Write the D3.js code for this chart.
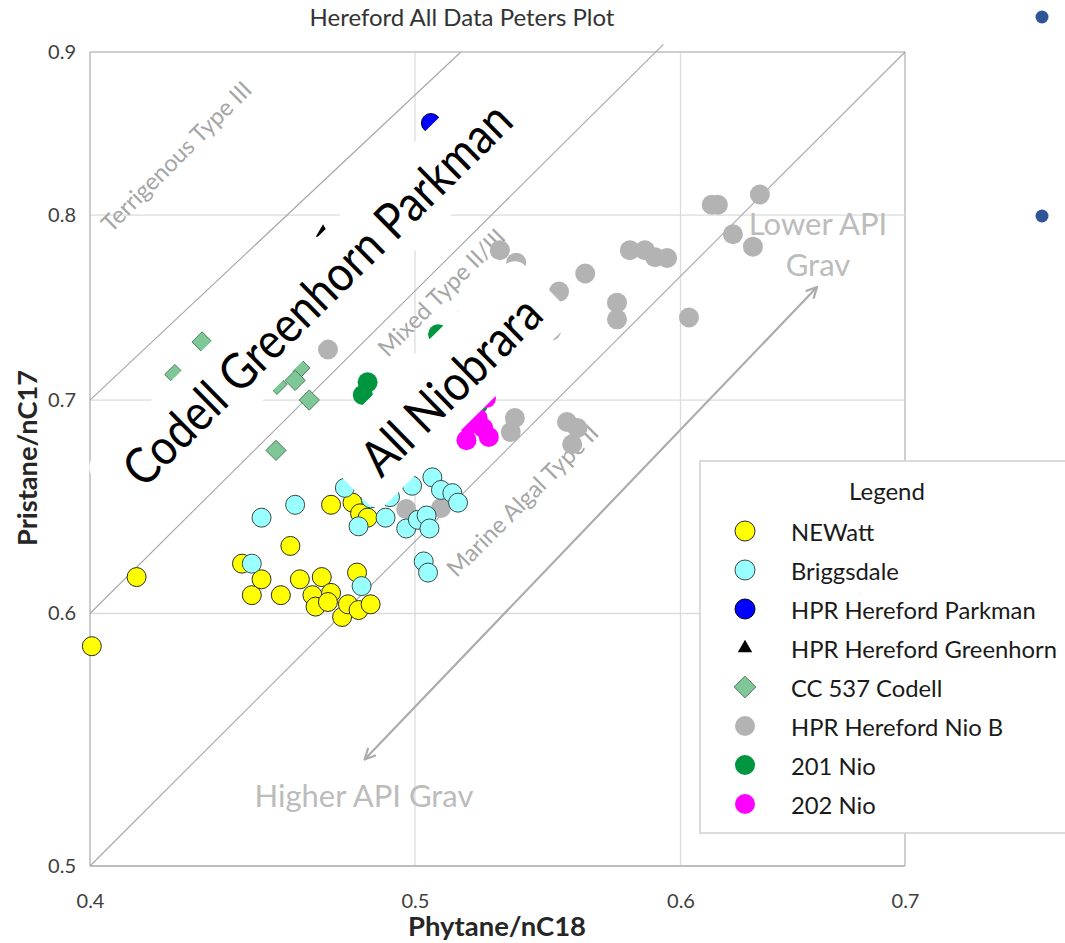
<!DOCTYPE html>
<html><head><meta charset="utf-8">
<script src="https://cdn.jsdelivr.net/npm/d3@7"></script>
<style>
body{margin:0;background:#fff;}
svg{display:block;font-family:Lato,"Open Sans",sans-serif;}
</style>
</head><body>
<svg id="c" width="1065" height="943"></svg>
<script>
// ---- Data (Phytane/nC18, Pristane/nC17) ----
const xTicks = [0.4, 0.5, 0.6, 0.7];
const yTicks = [0.5, 0.6, 0.7, 0.8, 0.9];

const newatt = [[0.4005,0.586],[0.413,0.616],[0.444,0.622],[0.447,0.608],[0.450,0.615],[0.456,0.608],
  [0.459,0.630],[0.462,0.615],[0.466,0.608],[0.469,0.616],[0.467,0.603],[0.472,0.609],[0.471,0.605],
  [0.472,0.649],[0.479,0.650],[0.4815,0.645],[0.484,0.643],[0.4805,0.618],[0.4756,0.5985],
  [0.4775,0.604],[0.481,0.6015],[0.485,0.604]];
const briggsdale = [[0.447,0.622],[0.450,0.643],[0.4605,0.649],[0.4765,0.657],[0.481,0.639],
  [0.490,0.643],[0.4915,0.6526],[0.485,0.652],[0.499,0.658],[0.506,0.662],[0.509,0.656],
  [0.513,0.6545],[0.515,0.650],[0.497,0.638],[0.501,0.642],[0.504,0.644],[0.505,0.638],
  [0.503,0.623],[0.5045,0.618],[0.482,0.612]];
const parkman = [[0.5055,0.855]];
const greenhorn = [[0.4694,0.790]];
const codell = [[0.432,0.730],[0.462,0.7164],[0.4605,0.710],[0.465,0.700],[0.4545,0.675],
  [0.4548,0.708],[0.424,0.713]];
const nioB = [[0.471,0.726],[0.497,0.647],[0.509,0.6475],[0.530,0.780],[0.536,0.773],[0.562,0.767],
  [0.552,0.757],[0.549,0.736],[0.5795,0.780],[0.5855,0.780],[0.5896,0.776],[0.5945,0.7756],
  [0.5744,0.751],[0.5744,0.742],[0.613,0.806],[0.6156,0.806],[0.6336,0.812],[0.622,0.789],
  [0.6306,0.782],[0.6035,0.743],[0.5355,0.691],[0.534,0.684],[0.555,0.689],[0.559,0.686],
  [0.557,0.678],[0.5175,0.7427]];
const nio201 = [[0.484,0.709],[0.4824,0.7026],[0.508,0.734],[0.522,0.6975]];
const nio202 = [[0.525,0.701],[0.522,0.691],[0.519,0.6875],[0.524,0.686],[0.526,0.6816],[0.518,0.680]];

// boundary lines between kerogen types
const boundaries = [[[0.4,0.7],[0.516,0.9]], [[0.4,0.6],[0.593,0.905]], [[0.4,0.5],[0.7,0.9]]];
const arrowEnds = [[0.483,0.540],[0.659,0.7595]];

const seriesNames = ["NEWatt","Briggsdale","HPR Hereford Parkman","HPR Hereford Greenhorn",
  "CC 537 Codell","HPR Hereford Nio B","201 Nio","202 Nio"];

// ---- Drawing ----
const svg = d3.select("#c");
const x = d3.scaleLog().domain([0.4,0.7]).range([90,905]);
const y = d3.scaleLog().domain([0.5,0.9]).range([866,52]);

// title
svg.append("text").attr("x",462).attr("y",26).attr("text-anchor","middle")
  .attr("font-size",24).attr("fill","#333").text("Hereford All Data Peters Plot");

// gridlines
const grid = svg.append("g");
grid.selectAll(".vg").data(xTicks).join("line")
  .attr("x1",d=>x(d)).attr("x2",d=>x(d)).attr("y1",y(0.9)).attr("y2",y(0.5))
  .attr("stroke",(d,i)=>i===xTicks.length-1?"#cfcfcf":"#dcdcdc").attr("stroke-width",(d,i)=>i===xTicks.length-1?2:1.3);
grid.selectAll(".hg").data(yTicks).join("line")
  .attr("y1",d=>y(d)).attr("y2",d=>y(d)).attr("x1",x(0.4)).attr("x2",x(0.7))
  .attr("stroke",(d,i)=>i===yTicks.length-1?"#cfcfcf":"#dcdcdc").attr("stroke-width",(d,i)=>i===yTicks.length-1?2:1.3);

// axes lines
svg.append("line").attr("x1",x(0.4)).attr("x2",x(0.4)).attr("y1",y(0.9)).attr("y2",y(0.5))
  .attr("stroke","#bdbdbd").attr("stroke-width",1.3);
svg.append("line").attr("x1",x(0.4)).attr("x2",x(0.7)).attr("y1",y(0.5)).attr("y2",y(0.5))
  .attr("stroke","#bdbdbd").attr("stroke-width",2);

// tick labels
const xa = svg.append("g").attr("transform",`translate(0,${y(0.5)})`)
  .call(d3.axisBottom(x).tickValues(xTicks).tickFormat(d3.format(".1f")).tickSize(0).tickPadding(28));
xa.select(".domain").remove();
xa.selectAll("text").attr("font-size",20).attr("fill","#404040").attr("font-family","Lato");
const ya = svg.append("g").attr("transform",`translate(${x(0.4)},0)`)
  .call(d3.axisLeft(y).tickValues(yTicks).tickFormat(d3.format(".1f")).tickSize(0).tickPadding(14));
ya.select(".domain").remove();
ya.selectAll("text").attr("font-size",20).attr("fill","#404040").attr("font-family","Lato");

// axis titles
svg.append("text").attr("x",497).attr("y",936).attr("text-anchor","middle")
  .attr("font-size",26).attr("font-weight","bold").attr("fill","#262626")
  .attr("textLength",178).attr("lengthAdjust","spacingAndGlyphs").text("Phytane/nC18");
svg.append("text").attr("transform","translate(37,458) rotate(-90)").attr("text-anchor","middle")
  .attr("font-size",26).attr("font-weight","bold").attr("fill","#262626")
  .attr("textLength",176).attr("lengthAdjust","spacingAndGlyphs").text("Pristane/nC17");

// boundary lines
svg.append("g").selectAll("line").data(boundaries).join("line")
  .attr("x1",d=>x(d[0][0])).attr("y1",d=>y(d[0][1])).attr("x2",d=>x(d[1][0])).attr("y2",d=>y(d[1][1]))
  .attr("stroke","#a6a6a6").attr("stroke-width",1.1);

// diagonal zone labels
const zoneLabels = [
  {t:"Terrigenous Type III", p:[0.4243,0.8349]},
  {t:"Mixed Type II/III", p:[0.509,0.7568]},
  {t:"Marine Algal Type II", p:[0.5381,0.6512]}
];
svg.append("g").selectAll("text").data(zoneLabels).join("text")
  .attr("transform",d=>`translate(${x(d.p[0])},${y(d.p[1])}) rotate(-45)`)
  .attr("text-anchor","middle").attr("dominant-baseline","central")
  .attr("font-size",23.5).attr("fill","#a6a6a6").text(d=>d.t);

// API gravity arrow
const defs = svg.append("defs");
defs.append("marker").attr("id","ah").attr("viewBox","0 0 12 12").attr("refX",11).attr("refY",6)
  .attr("markerWidth",13).attr("markerHeight",13).attr("markerUnits","userSpaceOnUse").attr("orient","auto-start-reverse")
  .append("path").attr("d","M1,1 L11,6 L1,11").attr("fill","none").attr("stroke","#acacac").attr("stroke-width",2);
svg.append("line").attr("x1",x(arrowEnds[0][0])).attr("y1",y(arrowEnds[0][1]))
  .attr("x2",x(arrowEnds[1][0])).attr("y2",y(arrowEnds[1][1]))
  .attr("stroke","#acacac").attr("stroke-width",2.2)
  .attr("marker-start","url(#ah)").attr("marker-end","url(#ah)");
const apiLabels = [
  {t:"Lower API", p:[0.6594,0.7886]},
  {t:"Grav", p:[0.6594,0.7656]},
  {t:"Higher API Grav", p:[0.4828,0.5218]}
];
svg.append("g").selectAll("text").data(apiLabels).join("text")
  .attr("x",d=>x(d.p[0])).attr("y",d=>y(d.p[1])).attr("text-anchor","middle")
  .attr("font-size",31).attr("fill","#bcbcbc").text(d=>d.t);

// markers
const pts = svg.append("g");
function circles(data, fill, stroke, r){
  pts.append("g").selectAll("circle").data(data).join("circle")
    .attr("cx",d=>x(d[0])).attr("cy",d=>y(d[1])).attr("r",r)
    .attr("fill",fill).attr("stroke",stroke||"none").attr("stroke-width",stroke?1:0);
}
circles(nioB,"#b3b3b3",null,10);
circles(newatt,"#ffff00","#2b2b2b",9.5);
circles(briggsdale,"#99ffff","#3a4a4a",9.5);
pts.append("g").selectAll("path").data(codell).join("path")
  .attr("transform",d=>`translate(${x(d[0])},${y(d[1])})`)
  .attr("d",d3.symbol(d3.symbolDiamond2,260)).attr("fill","#7fc796").attr("stroke","#4f7d5d").attr("stroke-width",1);
circles(nio201,"#00963f",null,10);
circles(nio202,"#ff00ff",null,10);
circles(parkman,"#0000ff","#000022",9.5);
pts.append("g").selectAll("path").data(greenhorn).join("path")
  .attr("transform",d=>`translate(${x(d[0])},${y(d[1])})`)
  .attr("d",d3.symbol(d3.symbolTriangle,90)).attr("fill","#000");

// big group labels on white rotated text boxes
const bigLabels = [
  {t:"Codell Greenhorn Parkman", p:[0.4672,0.7562], box:[-288,-39,573,78]},
  {t:"All Niobrara", p:[0.5122,0.7077], box:[-142,-47,279,87]}
];
const bg = svg.append("g").selectAll("g").data(bigLabels).join("g")
  .attr("transform",d=>`translate(${x(d.p[0])},${y(d.p[1])}) rotate(-44.5)`);
bg.append("rect").attr("x",d=>d.box[0]).attr("y",d=>d.box[1])
  .attr("width",d=>d.box[2]).attr("height",d=>d.box[3]).attr("rx",14).attr("fill","#fff");
const big = bg.append("text").attr("text-anchor","middle").attr("dominant-baseline","central")
  .attr("font-size",44).attr("fill","#000").text(d=>d.t);
big.each(function(){
  const L = this.getComputedTextLength();
  d3.select(this).attr("font-size",50).attr("textLength",L).attr("lengthAdjust","spacingAndGlyphs");
});

// legend
const lg = svg.append("g");
lg.append("rect").attr("x",700).attr("y",461).attr("width",380).attr("height",372)
  .attr("fill","#fff").attr("stroke","#d0d0d0").attr("stroke-width",1.5);
lg.append("text").attr("x",887).attr("y",500).attr("text-anchor","middle").attr("font-size",24)
  .attr("fill","#1a1a1a").text("Legend");
const rows = lg.selectAll(".row").data(seriesNames).join("g")
  .attr("transform",(d,i)=>`translate(745,${531+i*39})`);
rows.append("text").attr("x",46).attr("y",1).attr("dominant-baseline","central")
  .attr("font-size",23.8).attr("fill","#1a1a1a").text(d=>d);
const legStyle = [
  {type:"c",fill:"#ffff00",stroke:"#2b2b2b"},
  {type:"c",fill:"#99ffff",stroke:"#3a4a4a"},
  {type:"c",fill:"#0000ff",stroke:"#000022"},
  {type:"t",fill:"#000"},
  {type:"d",fill:"#7fc796",stroke:"#4f7d5d"},
  {type:"c",fill:"#b3b3b3"},
  {type:"c",fill:"#00963f"},
  {type:"c",fill:"#ff00ff"}
];
rows.each(function(d,i){
  const s = legStyle[i], g = d3.select(this);
  if(s.type==="c") g.append("circle").attr("r",10).attr("fill",s.fill).attr("stroke",s.stroke||"none").attr("stroke-width",1);
  else if(s.type==="t") g.append("path").attr("d",d3.symbol(d3.symbolTriangle,90)).attr("fill",s.fill);
  else g.append("path").attr("d",d3.symbol(d3.symbolDiamond2,300)).attr("fill",s.fill).attr("stroke",s.stroke).attr("stroke-width",1);
});

// selection handles at the right edge
svg.append("g").selectAll("circle").data([17,216]).join("circle")
  .attr("cx",1042).attr("cy",d=>d).attr("r",6.5).attr("fill","#2f5597");
</script>
</body></html>
